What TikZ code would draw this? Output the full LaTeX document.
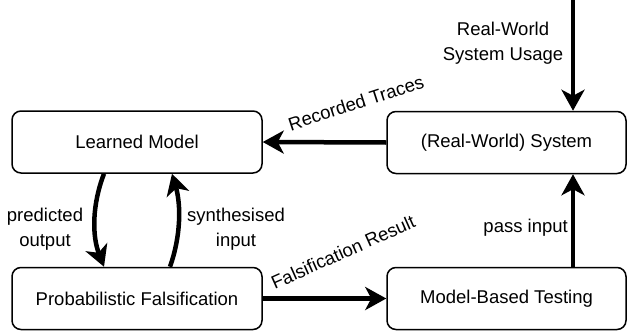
\documentclass[tikz,border=0pt]{standalone}
\usepackage{fontspec}
\setmainfont{Liberation Sans}
\usetikzlibrary{arrows.meta}
\begin{document}
\begin{tikzpicture}[x=1pt,y=-1pt,
  font=\fontsize{18.5}{25}\selectfont,
  box/.style={draw, line width=1.5pt, rounded corners=9pt, minimum height=62pt, inner sep=0pt},
  flow/.style={line width=4.5pt, -{Stealth[length=21pt,width=23pt,inset=6pt]}},
  lbl/.style={inner sep=0pt, align=center}]
\useasboundingbox (0,0) rectangle (628,332);
\node[box, minimum width=250pt] (lm) at (137,142) {Learned Model};
\node[box, minimum width=239pt] (sys) at (506.5,142.5) {(Real-World) System};
\node[box, minimum width=250pt] (pf) at (137,298.5) {Probabilistic Falsification};
\node[box, minimum width=239pt] (mbt) at (506.5,298.5) {Model-Based Testing};
\coordinate (top) at (573,0);
% connectors
\draw[flow] (top) -- (top |- sys.north);
\draw[flow] (sys.west) -- (lm.east);
\draw[flow] (pf.east) -- (mbt.west);
\draw[flow] (mbt.north -| top) -- (sys.south -| top);
\draw[flow] ([xshift=-33pt]lm.south) .. controls ++(-12,31) and ++(-12,-31) .. ([xshift=-33pt]pf.north);
\draw[flow] ([xshift=33pt]pf.north) .. controls ++(11,-31) and ++(9,31) .. ([xshift=35pt]lm.south);
% labels
\node[lbl] (usage) at (503,43) {Real-World\\System Usage};
\node[lbl, rotate=18] (rec) at (356,103) {Recorded Traces};
\node[lbl, rotate=24] (fals) at (343,252) {Falsification Result};
\node[lbl, anchor=east] (pass) at (568,228) {pass input};
\node[lbl] (pred) at (45,229) {predicted\\output};
\node[lbl] (synth) at (236,229) {synthesised\\input};
\end{tikzpicture}
\end{document}
